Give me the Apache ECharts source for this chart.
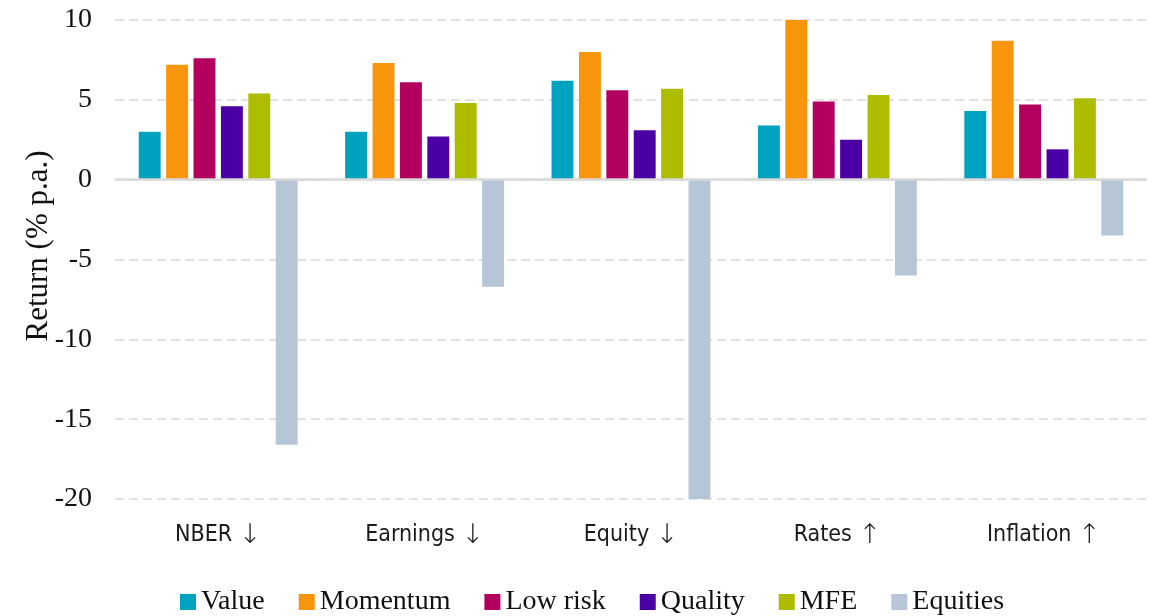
<!DOCTYPE html>
<html>
<head>
<meta charset="utf-8">
<script src="https://cdn.jsdelivr.net/npm/echarts@6/dist/echarts.min.js"></script>
<style>
html,body{margin:0;padding:0;background:#fff;}
#c{width:1155px;height:616px;}
</style>
</head>
<body>
<div id="c"></div>
<script>
const categories = ['NBER ↓', 'Earnings ↓', 'Equity ↓', 'Rates ↑', 'Inflation ↑'];
const seriesNames = ['Value', 'Momentum', 'Low risk', 'Quality', 'MFE', 'Equities'];
const valueData    = [3.0, 3.0, 6.2, 3.4, 4.3];
const momentumData = [7.2, 7.3, 8.0, 10.0, 8.7];
const lowRiskData  = [7.6, 6.1, 5.6, 4.9, 4.7];
const qualityData  = [4.6, 2.7, 3.1, 2.5, 1.9];
const mfeData      = [5.4, 4.8, 5.7, 5.3, 5.1];
const equitiesData = [-16.6, -6.7, -20.0, -6.0, -3.5];
const yTicks = [-20, -15, -10, -5, 0, 5, 10];
const yAxisTitle = 'Return (% p.a.)';

const colors = ['#00A3BF', '#F7960D', '#B3005F', '#4B00A6', '#AEBC00', '#B6C6D6'];
const allData = [valueData, momentumData, lowRiskData, qualityData, mfeData, equitiesData];

const serif = 'Liberation Serif';
const sans = '"Liberation Sans Narrow", "DejaVu Sans Condensed", "Liberation Sans", sans-serif';

const series = seriesNames.map((n, i) => {
  const s = {
    name: n,
    type: 'bar',
    data: allData[i],
    barGap: '25%',
    barCategoryGap: '23%',
    itemStyle: { color: colors[i] },
    emphasis: { disabled: true }
  };
  if (i === seriesNames.length - 1) {
    s.markLine = {
      silent: true,
      symbol: 'none',
      label: { show: false },
      lineStyle: { type: 'solid', color: '#d9d9d9', width: 2.5 },
      data: [{ yAxis: 0 }],
      animation: false
    };
  }
  return s;
});

const chart = echarts.init(document.getElementById('c'), null, { renderer: 'canvas' });
chart.setOption({
  animation: false,
  color: colors,
  grid: { left: 115, right: 8, top: 20, bottom: 117, containLabel: false },
  legend: {
    data: seriesNames,
    top: 583,
    left: 175,
    icon: 'rect',
    itemWidth: 16,
    itemHeight: 16,
    itemGap: 34,
    textStyle: { fontFamily: serif, fontSize: 28, color: '#111' }
  },
  xAxis: {
    type: 'category',
    data: categories,
    axisLine: { show: false, onZero: false },
    axisTick: { show: false },
    axisLabel: {
      interval: 0,
      hideOverlap: false,
      margin: 23,
      color: '#1a1a1a',
      fontFamily: sans,
      fontSize: 23,
      formatter: function (v) {
        const arrow = v.slice(-1);
        const txt = v.slice(0, -1);
        return '{t|' + txt + '}{a|' + arrow + '}';
      },
      rich: {
        t: { fontFamily: sans, fontSize: 23, color: '#1a1a1a' },
        a: { fontFamily: 'DejaVu Sans', fontWeight: 200, fontSize: 27, color: '#1a1a1a' }
      }
    },
    splitLine: { show: false }
  },
  yAxis: {
    type: 'value',
    min: yTicks[0],
    max: yTicks[yTicks.length - 1],
    interval: 5,
    axisLine: { show: false },
    axisTick: { show: false },
    axisLabel: { fontFamily: serif, fontSize: 28, color: '#111', margin: 23 },
    splitLine: { show: true, lineStyle: { type: [9, 5], color: '#d9d9d9', width: 1.5 } }
  },
  graphic: [{
    type: 'text',
    x: 39,
    y: 246,
    rotation: Math.PI / 2,
    style: {
      text: yAxisTitle,
      x: 0, y: 0,
      align: 'center',
      verticalAlign: 'middle',
      font: '31px "Liberation Serif"',
      fill: '#111'
    }
  }],
  series: series
});
</script>
</body>
</html>
